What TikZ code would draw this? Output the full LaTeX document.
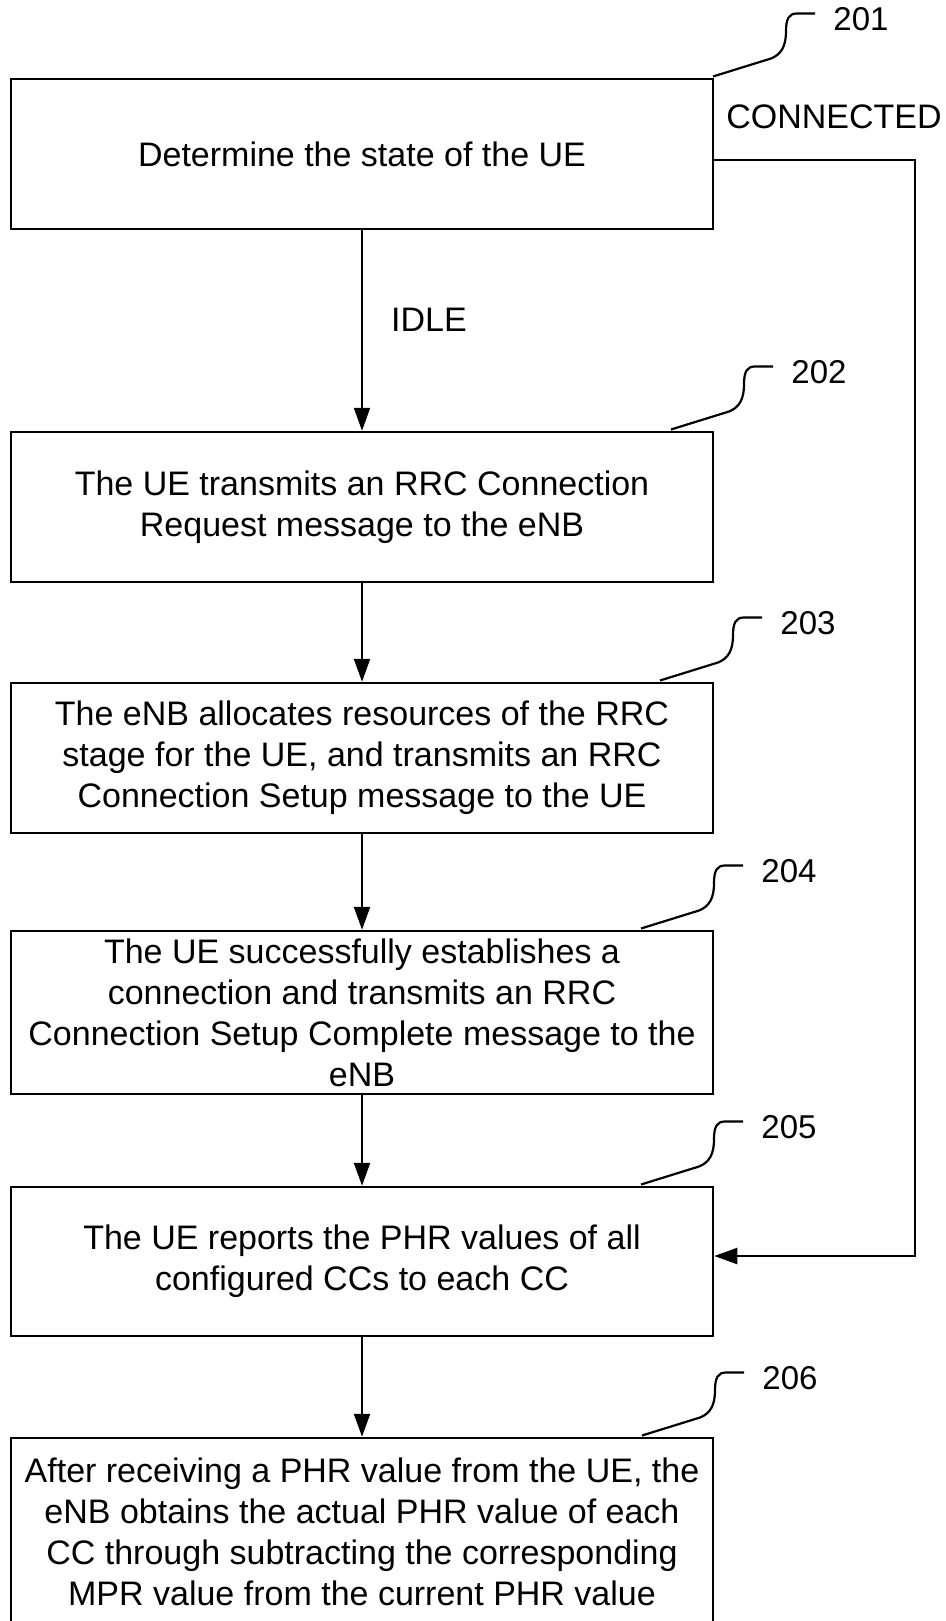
\documentclass[tikz,border=0pt]{standalone}
\usepackage{fontspec}
\setmainfont{Liberation Sans}
\usetikzlibrary{arrows.meta}
\begin{document}
\begin{tikzpicture}[x=1pt,y=-1pt,
  box/.style={draw, line width=2.5pt, minimum width=702pt, align=center, inner sep=0pt,
    font=\fontsize{34}{41}\selectfont},
  flow/.style={line width=2.2pt, -{Triangle[length=23pt,width=16pt]}},
  leaderline/.style={line width=2.2pt},
  lbl/.style={font=\fontsize{34}{40}\selectfont, inner sep=0pt},
  num/.style={font=\fontsize{33}{40}\selectfont, inner sep=0pt},
  leader/.pic={
    \draw[leaderline] (0,0) -- (58,-18) .. controls (68,-22) and (73,-30) .. (73,-45)
      .. controls (73,-58) and (76,-63) .. (84,-63) -- (102,-63);
    \node[num] (-t) at (148,-57) {#1};
  }
]
\useasboundingbox (0,0) rectangle (945,1621);
\clip (0,0) rectangle (945,1621);

\node[box, minimum height=150pt] (b1) at (362,154) {Determine the state of the UE};
\node[box, minimum height=150pt] (b2) at (362,507) {The UE transmits an RRC Connection\\Request message to the eNB};
\node[box, minimum height=150pt] (b3) at (362,758) {The eNB allocates resources of the RRC\\stage for the UE, and transmits an RRC\\Connection Setup message to the UE};
\node[box, minimum height=163pt] (b4) at (362,1012.5) {The UE successfully establishes a\\connection and transmits an RRC\\Connection Setup Complete message to the\\eNB};
\node[box, minimum height=149pt] (b5) at (362,1261.5) {The UE reports the PHR values of all\\configured CCs to each CC};
\node[box, minimum height=188pt] (b6) at (362,1532) {After receiving a PHR value from the UE, the\\eNB obtains the actual PHR value of each\\CC through subtracting the corresponding\\MPR value from the current PHR value};

\node[lbl] (idle) at (429,320) {IDLE};
\node[lbl] (conn) at (834,117) {CONNECTED};

\draw[flow] (b1.south) -- (b2.north);
\draw[flow] (b2.south) -- (b3.north);
\draw[flow] (b3.south) -- (b4.north);
\draw[flow] (b4.south) -- (b5.north);
\draw[flow] (b5.south) -- (b6.north);

\coordinate (c1) at (915,160);
\coordinate (c2) at (915,1256);
\draw[flow] (b1.east |- c1) -- (c1) -- (c2) -- (b5.east |- c2);

\pic (L1) at ([xshift=-1.25pt,yshift=1.25pt]b1.north east) {leader=201};
\pic (L2) at ([xshift=309pt,yshift=1.25pt]b2.north) {leader=202};
\pic (L3) at ([xshift=298pt,yshift=1.25pt]b3.north) {leader=203};
\pic (L4) at ([xshift=279pt,yshift=1.25pt]b4.north) {leader=204};
\pic (L5) at ([xshift=279pt,yshift=1.25pt]b5.north) {leader=205};
\pic (L6) at ([xshift=280pt,yshift=1.25pt]b6.north) {leader=206};
\end{tikzpicture}
\end{document}
